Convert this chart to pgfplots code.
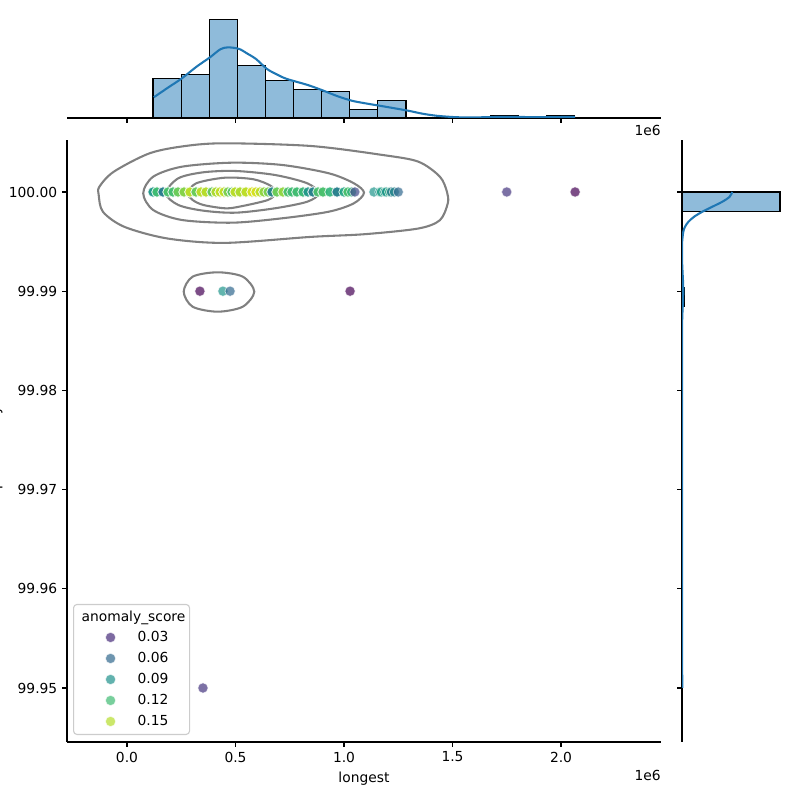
\documentclass[border=0pt]{standalone}
\usepackage{fontspec}
\setmainfont{DejaVu Sans}
\usepackage{pgfplots}
\pgfplotsset{compat=1.18}

\definecolor{histfill}{RGB}{143,187,218}
\definecolor{kdeblue}{RGB}{31,119,180}
\definecolor{contourgray}{RGB}{128,128,128}
\definecolor{legendedge}{RGB}{204,204,204}
% viridis samples for the legend keys
\definecolor{s03}{RGB}{71,44,122}
\definecolor{s06}{RGB}{49,104,142}
\definecolor{s09}{RGB}{32,146,140}
\definecolor{s12}{RGB}{63,188,115}
\definecolor{s15}{RGB}{181,222,43}

\pgfplotsset{
  jointbase/.style={
    scale only axis,
    anchor=south west,
    axis line style={line width=0.8pt, -},
    tick style={line width=0.8pt, black},
    tick align=outside,
    major tick length=3.5pt,
    /pgf/number format/assume math mode=true,
    every tick label/.append style={font=\fontsize{10}{12}\selectfont},
    label style={font=\fontsize{10}{12}\selectfont},
  },
  scoremark/.style={legend image code/.code={
      \path[draw=none, fill=none] (0in,-0.105in) rectangle (0.64in,0.105in);
      \path[fill=#1, fill opacity=0.7, draw=white, draw opacity=0.7, line width=0.5pt,
        rounded corners=0pt] (0.37in,0in) circle (3.7pt);}},
}

\begin{document}
\begin{tikzpicture}
\useasboundingbox (0,0) rectangle (8in,8in);

% ---------------- joint panel: y is (value - 100) * 100 ----------------
\begin{axis}[jointbase,
  at={(0.67in,0.58in)}, width=5.94in, height=6.02in,
  xmin=-0.2765, xmax=2.4608, ymin=-5.5444, ymax=0.5242,
  axis x line*=bottom, axis y line*=left,
  xtick={0,0.5,1,1.5,2}, xticklabels={0.0,0.5,1.0,1.5,2.0},
  ytick={-5,-4,-3,-2,-1,0},
  yticklabels={99.95,99.96,99.97,99.98,99.99,100.00},
  xlabel={longest}, ylabel={productivity},
  every axis y label/.style={at={([xshift=-0.673in]rel axis cs:0,0.4884)},
    rotate=90, anchor=base, inner sep=0pt},
  colormap/viridis, point meta min=0.006, point meta max=0.168,
  legend cell align=left,
  legend style={at={(0.0101,0.0116)}, anchor=south west, draw=legendedge,
    line width=0.8pt, rounded corners=2.5pt, fill=white,
    inner xsep=0pt, inner ysep=0.025in, row sep=0pt, column sep=0pt,
    nodes={inner sep=0pt}, font=\fontsize{10}{12}\selectfont},
  after end axis/.code={\node[anchor=north east, inner sep=0pt, font=\fontsize{10}{12}\selectfont]
      at ([yshift=-0.28in]rel axis cs:1,0) {1e6};},
]
\addlegendimage{legend image code/.code={\path[draw=none, fill=none] (0in,-0.1in) rectangle (0in,0.1in);}}
\addlegendentry{\makebox[0.52in][l]{\hspace*{-0.56in}anomaly\_score}}
\addlegendimage{scoremark=s03}\addlegendentry{\makebox[0.52in][l]{0.03}}
\addlegendimage{scoremark=s06}\addlegendentry{\makebox[0.52in][l]{0.06}}
\addlegendimage{scoremark=s09}\addlegendentry{\makebox[0.52in][l]{0.09}}
\addlegendimage{scoremark=s12}\addlegendentry{\makebox[0.52in][l]{0.12}}
\addlegendimage{scoremark=s15}\addlegendentry{\makebox[0.52in][l]{0.15}}

\addplot[forget plot, scatter, only marks, mark=*, mark size=3.7pt,
  scatter src=explicit,
  scatter/use mapped color={draw=white, fill=mapped color},
  mark options={fill opacity=0.7, draw opacity=0.7, line width=0.5pt}]
  table[x=x, y=y, meta=s] {
x y s
0.120 0 0.09
0.120 0 0.10
0.120 0 0.09
0.138 0 0.12
0.138 0 0.11
0.138 0 0.12
0.166 0 0.10
0.166 0 0.08
0.166 0 0.07
0.189 0 0.12
0.189 0 0.13
0.189 0 0.12
0.212 0 0.13
0.212 0 0.12
0.212 0 0.12
0.235 0 0.12
0.235 0 0.14
0.235 0 0.13
0.263 0 0.14
0.263 0 0.15
0.263 0 0.13
0.263 0 0.14
0.290 0 0.15
0.290 0 0.14
0.290 0 0.16
0.290 0 0.15
0.318 0 0.14
0.318 0 0.15
0.318 0 0.13
0.318 0 0.13
0.341 0 0.15
0.341 0 0.16
0.341 0 0.15
0.364 0 0.16
0.364 0 0.15
0.364 0 0.15
0.392 0 0.15
0.392 0 0.16
0.392 0 0.14
0.392 0 0.16
0.392 0 0.15
0.392 0 0.12
0.410 0 0.16
0.410 0 0.15
0.410 0 0.16
0.410 0 0.15
0.410 0 0.14
0.410 0 0.15
0.429 0 0.15
0.429 0 0.16
0.429 0 0.16
0.429 0 0.15
0.429 0 0.16
0.429 0 0.16
0.429 0 0.15
0.447 0 0.14
0.447 0 0.16
0.447 0 0.15
0.447 0 0.16
0.447 0 0.16
0.447 0 0.15
0.465 0 0.16
0.465 0 0.15
0.465 0 0.14
0.465 0 0.16
0.465 0 0.15
0.465 0 0.13
0.484 0 0.15
0.484 0 0.16
0.484 0 0.14
0.484 0 0.15
0.484 0 0.13
0.484 0 0.12
0.498 0 0.16
0.498 0 0.15
0.498 0 0.16
0.498 0 0.16
0.498 0 0.15
0.498 0 0.15
0.521 0 0.15
0.521 0 0.16
0.521 0 0.14
0.521 0 0.15
0.548 0 0.16
0.548 0 0.15
0.548 0 0.16
0.548 0 0.15
0.576 0 0.16
0.576 0 0.16
0.576 0 0.15
0.576 0 0.16
0.594 0 0.16
0.594 0 0.16
0.594 0 0.15
0.594 0 0.16
0.613 0 0.15
0.613 0 0.16
0.613 0 0.16
0.613 0 0.15
0.631 0 0.14
0.631 0 0.13
0.631 0 0.15
0.631 0 0.14
0.650 0 0.13
0.650 0 0.12
0.650 0 0.14
0.668 0 0.12
0.668 0 0.10
0.668 0 0.07
0.691 0 0.13
0.691 0 0.14
0.691 0 0.13
0.719 0 0.13
0.719 0 0.15
0.719 0 0.14
0.742 0 0.12
0.742 0 0.13
0.742 0 0.12
0.760 0 0.11
0.760 0 0.12
0.783 0 0.13
0.783 0 0.11
0.783 0 0.12
0.811 0 0.12
0.811 0 0.13
0.811 0 0.11
0.834 0 0.10
0.834 0 0.09
0.857 0 0.11
0.857 0 0.09
0.857 0 0.07
0.880 0 0.13
0.880 0 0.12
0.903 0 0.11
0.903 0 0.13
0.903 0 0.12
0.935 0 0.12
0.935 0 0.11
0.968 0 0.10
0.968 0 0.09
0.968 0 0.07
1.000 0 0.11
1.000 0 0.10
1.018 0 0.13
1.018 0 0.12
1.035 0 0.11
1.050 0 0.04
1.138 0 0.09
1.165 0 0.09
1.172 0 0.10
1.188 0 0.10
1.195 0 0.09
1.210 0 0.11
1.218 0 0.07
1.232 0 0.08
1.250 0 0.06
1.750 0 0.03
2.065 0 0.006
0.336 -1 0.006
0.442 -1 0.09
0.475 -1 0.06
1.028 -1 0.006
0.350 -5 0.03
};

% density contours
\addplot[forget plot, contourgray, line width=1.5pt, smooth cycle] coordinates {
(-0.1304,-0.0302) (-0.1106,-0.2006) (-0.0115,-0.3518) (0.1866,-0.4688)
(0.4512,-0.5131) (0.8475,-0.4526) (1.0954,-0.4254) (1.3429,-0.3679)
(1.4419,-0.2843) (1.4783,-0.1139) (1.4747,0.0) (1.4419,0.1542)
(1.3429,0.3054) (1.1779,0.3730) (0.8475,0.4637) (0.4512,0.4909)
(0.2691,0.4637) (0.1041,0.3901) (-0.0608,0.2046) (-0.1272,0.0534)};
\addplot[forget plot, contourgray, line width=1.5pt, smooth cycle] coordinates {
(0.0747,-0.0131) (0.1207,-0.1815) (0.2530,-0.2823) (0.4839,-0.3095)
(0.7152,-0.2651) (0.9300,-0.1986) (1.0456,-0.1139) (1.0922,-0.0071)
(1.0456,0.0877) (0.9300,0.1885) (0.7152,0.2722) (0.4839,0.2954)
(0.2530,0.2550) (0.1207,0.1542)};
\addplot[forget plot, contourgray, line width=1.5pt, smooth cycle] coordinates {
(0.1783,-0.0131) (0.2364,-0.1310) (0.3521,-0.1885) (0.5005,-0.2087)
(0.6820,-0.1643) (0.8309,-0.0978) (0.8839,-0.0131) (0.8309,0.0877)
(0.6820,0.1714) (0.5005,0.2117) (0.3521,0.1986) (0.2364,0.1381)};
\addplot[forget plot, contourgray, line width=1.5pt, smooth cycle] coordinates {
(0.2811,-0.0131) (0.3023,-0.0806) (0.3521,-0.1310) (0.4512,-0.1643)
(0.5171,-0.1482) (0.6493,-0.0806) (0.6820,-0.0131) (0.6636,0.0605)
(0.5829,0.1280) (0.4512,0.1442) (0.3189,0.0877)};
\addplot[forget plot, contourgray, line width=1.5pt, smooth cycle] coordinates {
(0.2613,-1.0050) (0.3023,-0.8538) (0.4180,-0.8095) (0.5336,-0.8538)
(0.5866,-1.0050) (0.5336,-1.1562) (0.4180,-1.2067) (0.3023,-1.1562)};
\end{axis}

% ---------------- top marginal: histogram of longest ----------------
\begin{axis}[jointbase,
  at={(0.67in,6.82in)}, width=5.94in, height=1.03in,
  xmin=-0.2765, xmax=2.4608, ymin=0, ymax=47.25,
  axis x line*=bottom, axis y line=none,
  xtick={0,0.5,1,1.5,2}, xticklabels={}, ytick=\empty,
  after end axis/.code={\node[anchor=north east, inner sep=0pt, font=\fontsize{10}{12}\selectfont]
      at ([yshift=-0.065in]rel axis cs:1,0) {1e6};},
]
\addplot[ybar interval, fill=histfill, draw=black, line width=0.8pt] coordinates {
(0.1200,18) (0.2495,20) (0.3790,45) (0.5085,24) (0.6380,17) (0.7675,13)
(0.8970,12) (1.0265,4) (1.1560,8) (1.2855,0) (1.4150,0) (1.5445,0)
(1.6740,1) (1.8035,0) (1.9330,1) (2.0625,0)};
\addplot[kdeblue, line width=1.5pt, smooth] coordinates {
(0.1235,9.5) (0.19,14.0) (0.253,18.2) (0.32,23.5) (0.382,27.8) (0.43,31.5)
(0.465,32.4) (0.516,31.7) (0.555,29.5) (0.594,27.1) (0.645,22.5) (0.69,20.0)
(0.737,17.9) (0.834,15.1) (0.906,12.5) (0.97,10.0) (1.037,7.9) (1.10,6.7)
(1.166,5.6) (1.23,4.5) (1.298,3.3) (1.36,2.0) (1.424,1.05) (1.50,0.45)
(1.56,0.25) (1.62,0.3) (1.70,0.45) (1.75,0.5) (1.82,0.45) (1.90,0.38)
(1.98,0.42) (2.03,0.47) (2.065,0.47)};
\end{axis}

% ---------------- right marginal: histogram of the y values (26 bins) ----------------
\begin{axis}[jointbase,
  at={(6.82in,0.58in)}, width=1.03in, height=6.02in,
  xmin=0, xmax=166, ymin=-5.5444, ymax=0.5242,
  axis y line*=left, axis x line=none,
  ytick={-5,-4,-3,-2,-1,0}, yticklabels={}, xtick=\empty,
]
\addplot[xbar interval, fill=histfill, draw=black, line width=0.8pt] coordinates {
(1,-5.0000) (0,-4.8077) (0,-4.6154) (0,-4.4231) (0,-4.2308) (0,-4.0385)
(0,-3.8462) (0,-3.6538) (0,-3.4615) (0,-3.2692) (0,-3.0769) (0,-2.8846)
(0,-2.6923) (0,-2.5000) (0,-2.3077) (0,-2.1154) (0,-1.9231) (0,-1.7308)
(0,-1.5385) (0,-1.3462) (4,-1.1538) (0,-0.9615) (0,-0.7692) (0,-0.5769)
(0,-0.3846) (158,-0.1923) (0,0.0000)};
\addplot[kdeblue, line width=1.5pt, smooth] coordinates {
(81,0) (76.5,-0.05) (64.5,-0.1) (48.4,-0.15) (32.5,-0.2) (19.4,-0.25)
(10.4,-0.3) (4.9,-0.35) (2.1,-0.4) (0.27,-0.5) (0.05,-0.6) (0.1,-0.7)
(0.49,-0.75) (0.82,-0.8) (1.63,-0.9) (2.05,-1.0) (1.63,-1.1) (0.82,-1.2)
(0.25,-1.3) (0.05,-1.4) (0,-1.6) (0,-3.0) (0,-4.4) (0.01,-4.6) (0.2,-4.8)
(0.4,-4.9) (0.51,-5.0)};
\end{axis}
\end{tikzpicture}
\end{document}
